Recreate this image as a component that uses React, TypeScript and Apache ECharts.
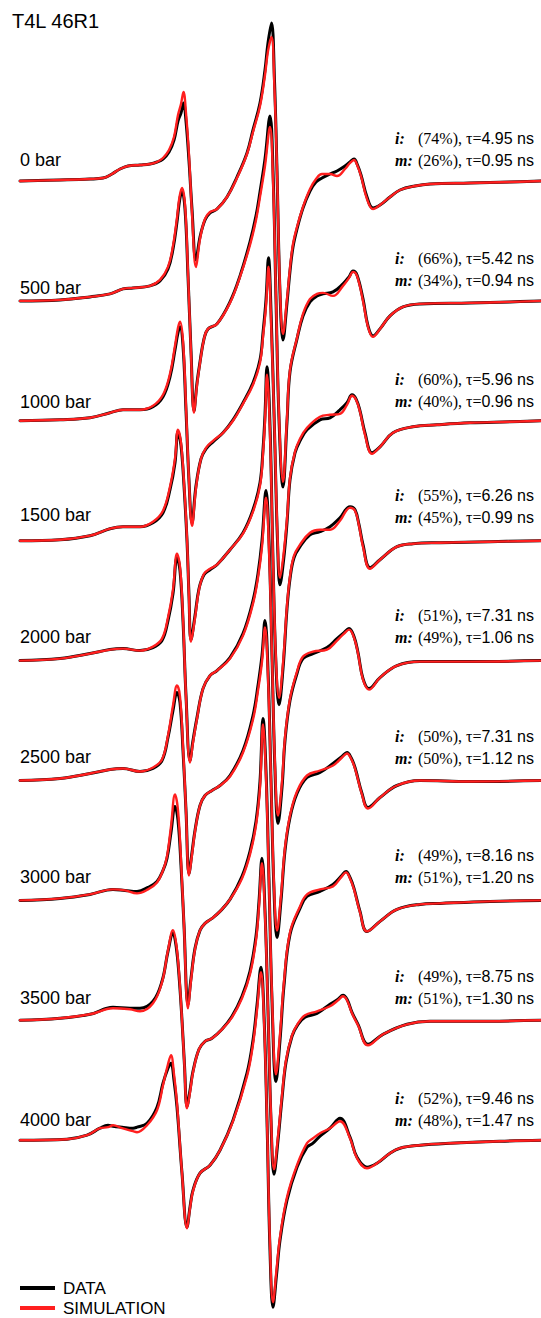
import { useEffect, useRef } from "react";
import * as echarts from "echarts";

// Pressure series of T4L 46R1 EPR spectra: first-derivative amplitude (arb.)
// against magnetic field offset (G). Each pressure has its own field grid,
// shared by the measured trace and its two-component simulation.

const PRESSURES = ["0 bar", "500 bar", "1000 bar", "1500 bar", "2000 bar", "2500 bar", "3000 bar", "3500 bar", "4000 bar"];

const FIELD_0 = [0, 8, 14, 16.6, 18.4, 20, 21.6, 24, 26, 27.4, 28.6, 29.8, 30.8, 31.6, 32.2, 32.7, 33.2, 33.8, 34.4, 35.2, 36, 37, 38, 39.4, 41.4, 43.4, 45.4, 46.6, 48, 49, 49.6, 50.3, 50.9, 51.4, 52, 52.6, 53.4, 54, 54.6, 55.4, 56.6, 58, 59.2, 60.4, 62, 63.4, 65, 66, 66.8, 67.5, 68.2, 69.4, 70.6, 72, 74, 76, 79, 82, 90, 98, 104.2];
const DATA_0 = [0, 1, 2, 3, 7, 12, 15, 16, 17, 19, 22, 29, 41, 60, 68, 78, 60, 20, -28, -79, -56, -39, -32, -28, -16, 4, 28, 51, 78, 111, 138, 158, 100, 10, -112, -159, -122, -90, -66, -48, -27, -10, -1, 3, 7, 10, 15, 19, 22, 16, 6, -16, -27, -24, -16, -9, -5, -3, -2, -1, 0];
const SIM_0 = [0, 1, 2, 3, 7, 12, 15, 16, 17, 19, 23, 31, 44, 66, 77, 89, 68, 26, -32, -86, -58, -38, -31, -28, -16, 3, 27, 49, 75, 106, 130, 144, 92, 12, -108, -153, -118, -87, -63, -46, -26, -8, 2, 7, 7, 5, 12, 18, 21, 15, 5, -18, -28, -24, -16, -9, -5, -3, -2, -1, 0];

const FIELD_500 = [0, 8, 14, 18, 20.6, 22.6, 26, 28, 29.6, 30.6, 31.4, 31.9, 32.4, 33, 33.6, 34.2, 34.8, 35.4, 36, 36.8, 37.6, 39.4, 42, 44, 46, 47.2, 48, 49, 50, 50.6, 51.2, 51.8, 52.6, 53.4, 54, 55.4, 56.6, 58, 59.4, 60.6, 62.6, 64.6, 65.8, 66.6, 67.4, 68.6, 69.6, 70.6, 72, 74, 76.6, 80, 90, 98, 104.2];
const DATA_500 = [0, 1, 4, 7, 12, 13, 15, 20, 32, 52, 79, 100, 110, 92, 25, -50, -110, -82, -61, -38, -28, -23, -1, 25, 59, 85, 109, 142, 185, 130, 2, -118, -186, -121, -71, -38, -15, -1, 5, 7, 9, 17, 24, 30, 26, 2, -25, -35, -28, -15, -6, -3, -2, -1, 0];
const SIM_500 = [0, 1, 4, 7, 12, 13, 15, 21, 34, 55, 83, 104, 113, 96, 28, -52, -112, -84, -62, -38, -28, -23, -2, 24, 56, 81, 104, 135, 174, 122, 4, -115, -181, -117, -69, -37, -13, 2, 7, 8, 5, 15, 23, 29, 25, 0, -26, -36, -28, -15, -6, -3, -2, -1, 0];

const FIELD_1000 = [0, 8, 14, 18, 20.6, 24, 26.6, 28.6, 30, 31, 31.6, 32, 32.6, 33.2, 33.8, 34.4, 35.2, 36.2, 37.2, 38.6, 40.6, 42.6, 44.6, 46.6, 48, 48.6, 49.2, 49.7, 50.2, 50.9, 51.5, 52, 52.7, 53.4, 54, 55, 56, 57.4, 60, 62, 64, 65.4, 66.4, 67.2, 68, 69, 70.4, 72, 74.6, 78.6, 83.4, 90, 98, 104.2];
const DATA_1000 = [0, 1, 3, 8, 11, 11, 14, 24, 44, 71, 88, 94, 75, 10, -60, -102, -65, -38, -28, -21, -12, 1, 18, 38, 61, 88, 121, 163, 110, -10, -120, -164, -140, -102, -59, -32, -20, -9, 1, 3, 11, 18, 26, 22, 10, -12, -32, -26, -12, -6, -4, -2, -1, 0];
const SIM_1000 = [0, 1, 3, 8, 11, 11, 15, 26, 47, 75, 93, 99, 80, 14, -60, -105, -67, -38, -27, -20, -12, 0, 17, 36, 58, 84, 115, 154, 102, -8, -115, -157, -134, -98, -57, -31, -18, -7, 4, 6, 7, 16, 25, 21, 9, -14, -33, -26, -12, -6, -4, -2, -1, 0];

const FIELD_1500 = [0, 8, 14, 18, 20.6, 24, 26.6, 28.6, 30, 31, 31.6, 32.2, 32.8, 33.4, 33.8, 34.2, 35, 35.8, 36.8, 38, 39.4, 42, 44.6, 46.6, 48, 48.6, 49, 49.4, 50, 50.6, 51.2, 51.8, 52.6, 53.4, 54, 54.8, 56, 58, 60, 62, 64, 66, 67, 67.8, 68.6, 70, 72, 75.4, 78.6, 84, 94, 104.2];
const DATA_1500 = [0, 1, 5, 12, 14, 14, 18, 28, 51, 78, 109, 95, 55, 0, -55, -99, -75, -48, -34, -29, -24, -9, 8, 31, 58, 91, 126, 174, 115, -20, -125, -164, -128, -68, -38, -17, -6, 6, 9, 14, 23, 34, 31, 16, -4, -27, -19, -6, -3, -2, -1, 0];
const SIM_1500 = [0, 1, 5, 12, 14, 14, 19, 30, 54, 82, 111, 98, 58, 2, -57, -101, -77, -49, -33, -28, -24, -9, 7, 29, 55, 87, 120, 166, 108, -18, -120, -157, -123, -65, -36, -15, -4, 8, 11, 11, 20, 33, 30, 15, -6, -28, -19, -6, -3, -2, -1, 0];

const FIELD_2000 = [0, 8, 14, 18, 20.6, 24, 26.6, 28.4, 29.6, 30.6, 31.4, 32, 32.6, 33.2, 34, 34.6, 35.4, 36.6, 38, 39.4, 42, 44.6, 46.6, 47.6, 48.4, 49.2, 49.8, 50.4, 51, 51.6, 52.4, 53, 54, 55.4, 56.6, 58.6, 61.4, 63.4, 64.8, 65.8, 66.8, 67.6, 68.6, 69.8, 72, 75.4, 80, 90, 104.2];
const DATA_2000 = [0, 2, 7, 11, 12, 10, 13, 20, 40, 67, 103, 90, 40, -35, -100, -80, -57, -28, -15, -10, 3, 27, 60, 87, 120, 170, 120, 5, -110, -163, -127, -80, -40, -13, 2, 7, 13, 22, 28, 32, 24, 8, -18, -28, -17, -5, -1, -1, 0];
const SIM_2000 = [0, 2, 7, 11, 12, 10, 14, 22, 43, 71, 107, 94, 43, -36, -102, -82, -58, -28, -15, -10, 2, 25, 57, 83, 114, 163, 112, 5, -105, -155, -121, -77, -38, -11, 4, 9, 11, 20, 27, 31, 23, 7, -19, -29, -17, -5, -1, -1, 0];

const FIELD_2500 = [0, 8, 14, 18, 20.6, 24, 26.6, 28.4, 29.6, 30.6, 31.4, 32, 32.6, 33.2, 33.8, 34.4, 35, 36, 37, 38.4, 40, 42, 44.6, 46.6, 47.6, 48.4, 49, 49.6, 50.2, 50.8, 51.4, 52.2, 53, 54, 55.4, 57.4, 60, 62.6, 64.4, 65.4, 66.2, 67, 68.4, 69.6, 72, 75.4, 80, 90, 104.2];
const DATA_2500 = [0, 2, 7, 11, 12, 9, 12, 20, 43, 70, 88, 78, 30, -30, -93, -72, -50, -25, -15, -10, -5, 5, 30, 65, 95, 125, 160, 110, 0, -110, -157, -120, -70, -37, -13, 3, 8, 17, 24, 28, 23, 13, -13, -27, -17, -5, 0, -1, 0];
const SIM_2500 = [0, 2, 7, 11, 12, 9, 13, 21, 45, 75, 95, 84, 34, -30, -95, -74, -51, -25, -15, -10, -5, 4, 28, 61, 90, 119, 153, 104, 0, -105, -150, -115, -67, -35, -11, 5, 10, 15, 23, 27, 22, 12, -14, -28, -17, -5, 0, -1, 0];

const FIELD_3000 = [0, 8, 14, 18.6, 21, 23.4, 25.6, 27.4, 28.6, 29.4, 30.2, 31, 31.6, 32.2, 32.8, 33.6, 34.2, 35, 36, 37, 38.4, 40, 42, 44.4, 46, 47.2, 48, 48.6, 49.2, 49.8, 50.4, 51.2, 52, 52.8, 54, 56, 57.4, 60, 62.6, 64.2, 65.2, 66, 66.8, 68, 69.4, 72, 75.4, 80, 84, 94, 104.2];
const DATA_3000 = [0, 2, 6, 11, 10, 9, 13, 19, 30, 42, 68, 94, 80, 35, -25, -104, -78, -48, -30, -23, -18, -11, 1, 24, 49, 79, 119, 182, 130, 20, -100, -181, -140, -85, -34, -8, 4, 9, 16, 24, 29, 23, 12, -11, -31, -21, -9, -4, -3, -1, 0];
const SIM_3000 = [0, 2, 6, 11, 10, 7, 11, 18, 30, 44, 74, 106, 90, 40, -25, -108, -80, -49, -30, -23, -18, -11, 1, 22, 46, 75, 113, 176, 124, 18, -96, -174, -134, -81, -32, -6, 6, 11, 14, 23, 28, 22, 11, -12, -31, -21, -9, -4, -3, -1, 0];

const FIELD_3500 = [0, 8, 14, 18.6, 22, 24, 26.6, 28.4, 29.6, 30.6, 31.2, 31.8, 32.4, 32.9, 33.4, 34, 34.6, 35.8, 37, 38.4, 40.4, 42.4, 44.4, 46, 47.2, 47.8, 48.4, 49, 49.6, 50.2, 50.8, 51.6, 52.4, 53.2, 54.4, 55.6, 57, 59.4, 62, 63.6, 64.6, 65.4, 66.4, 67.6, 69.6, 72.6, 77.4, 82, 90, 104.2];
const DATA_3500 = [0, 2, 6, 13, 12, 12, 19, 39, 69, 87, 75, 45, 0, -45, -86, -70, -51, -29, -21, -18, -9, 4, 24, 49, 84, 119, 162, 110, 10, -100, -154, -120, -78, -42, -16, -4, 3, 7, 16, 21, 25, 21, 8, -4, -24, -14, -4, -1, -1, 0];
const SIM_3500 = [0, 2, 6, 12, 11, 9, 17, 38, 70, 90, 78, 48, 0, -46, -88, -72, -52, -29, -21, -18, -9, 3, 22, 46, 80, 114, 157, 106, 10, -96, -149, -116, -75, -40, -15, -3, 5, 9, 14, 20, 24, 20, 7, -5, -25, -14, -4, -1, -1, 0];

const FIELD_4000 = [0, 9.4, 13.4, 16, 17.6, 18.6, 20.4, 22.6, 23.4, 25.4, 27.4, 28.6, 29.6, 30.2, 30.8, 31.4, 32.4, 33.4, 34, 34.6, 36, 38, 40, 42.6, 45.4, 46.6, 47.4, 48.2, 48.8, 49.4, 50, 50.6, 51.3, 52, 53.4, 55.4, 57.4, 58.6, 60, 62, 64, 66, 67.4, 69.4, 71.4, 74, 76, 80, 86, 96, 104.2];
const DATA_4000 = [0, 1, 5, 12, 15, 14, 13, 12, 13, 17, 33, 57, 72, 77, 60, 33, -33, -87, -67, -50, -33, -25, -10, 20, 67, 100, 135, 173, 125, 20, -110, -167, -135, -100, -60, -27, -7, -3, 4, 12, 22, 3, -17, -27, -23, -13, -8, -5, -3, -1, 0];
const SIM_4000 = [0, 1, 5, 12, 13, 15, 12, 9, 8, 15, 30, 55, 76, 85, 66, 37, -33, -88, -68, -51, -33, -25, -10, 19, 64, 96, 130, 168, 121, 20, -105, -162, -130, -97, -57, -25, -3, 2, 7, 12, 19, 2, -18, -28, -23, -13, -8, -5, -3, -1, 0];

// Two-component fit results: immobile (i) and mobile (m) populations
const FRACTION_I = ["74%", "66%", "60%", "55%", "51%", "50%", "49%", "49%", "52%"];
const TAU_I = ["4.95", "5.42", "5.96", "6.26", "7.31", "7.31", "8.16", "8.75", "9.46"];
const FRACTION_M = ["26%", "34%", "40%", "45%", "49%", "50%", "51%", "51%", "48%"];
const TAU_M = ["0.95", "0.94", "0.96", "0.99", "1.06", "1.12", "1.20", "1.30", "1.47"];

const FIELDS = [FIELD_0, FIELD_500, FIELD_1000, FIELD_1500, FIELD_2000, FIELD_2500, FIELD_3000, FIELD_3500, FIELD_4000];
const DATA = [DATA_0, DATA_500, DATA_1000, DATA_1500, DATA_2000, DATA_2500, DATA_3000, DATA_3500, DATA_4000];
const SIM = [SIM_0, SIM_500, SIM_1000, SIM_1500, SIM_2000, SIM_2500, SIM_3000, SIM_3500, SIM_4000];

const WIDTH = 541;
const HEIGHT = 1318;
const STACK_STEP = 119.9; // vertical spacing between pressures, in amplitude units
const SANS = "'Liberation Sans', Arial, Helvetica, sans-serif";
const SERIF = "'Liberation Serif', 'Times New Roman', Times, serif";
const BLACK = "#000000";
const RED = "#ff1f1f";

// Text rows (px) for the pressure labels and fit results
const LABEL_Y = [160, 288, 402, 515, 637, 757, 877, 998, 1120];
const ROW_M_Y = [160, 280, 401, 517, 637, 758, 877, 998, 1120];

function buildOption(): echarts.EChartsOption {
  const series: any[] = [];
  const makeLine = (name: string, color: string, width: number, values: number[][], i: number) => ({
    type: "line",
    name,
    data: FIELDS[i].map((f, k) => [f, values[i][k] - i * STACK_STEP]),
    showSymbol: false,
    symbol: "none",
    smooth: 0.4,
    lineStyle: { color, width, cap: "round", join: "round" },
    itemStyle: { color },
    silent: true,
    z: color === RED ? 3 : 2,
  });
  PRESSURES.forEach((_, i) => series.push(makeLine("DATA", BLACK, 3, DATA, i)));
  PRESSURES.forEach((_, i) => series.push(makeLine("SIMULATION", RED, 2.4, SIM, i)));

  const graphics: any[] = [
    {
      type: "text",
      left: 12,
      top: 11,
      style: { text: "T4L 46R1", font: `20px ${SANS}`, fill: "#000" },
    },
  ];
  PRESSURES.forEach((p, i) => {
    graphics.push({
      type: "text",
      x: 20,
      y: LABEL_Y[i],
      style: { text: p, font: `18px ${SANS}`, fill: "#000", verticalAlign: "middle" },
    });
    const rows = [
      { tag: "i:", y: ROW_M_Y[i] - 21.5, frac: FRACTION_I[i], tau: TAU_I[i] },
      { tag: "m:", y: ROW_M_Y[i], frac: FRACTION_M[i], tau: TAU_M[i] },
    ];
    rows.forEach((r) => {
      graphics.push({
        type: "text",
        x: 395,
        y: r.y,
        style: {
          text: r.tag,
          font: `italic bold 16px ${SERIF}`,
          fill: "#000",
          verticalAlign: "middle",
        },
      });
      graphics.push({
        type: "text",
        x: 418,
        y: r.y,
        style: {
          text: `{s|(${r.frac}), τ=}{h|${r.tau} ns}`,
          verticalAlign: "middle",
          rich: {
            s: { font: `16px ${SERIF}`, fill: "#000" },
            h: { font: `16px ${SANS}`, fill: "#000" },
          },
        },
      });
    });
  });

  const legendItem = (name: string, top: number) => ({
    left: 20,
    top,
    orient: "vertical",
    padding: 0,
    itemWidth: 35,
    itemHeight: 4,
    selectedMode: false,
    data: [{ name, icon: "rect" }],
    textStyle: { fontSize: 17, fontFamily: SANS, color: "#000", lineHeight: 17, padding: [0, 0, 0, 3] },
  });

  return {
    animation: false,
    backgroundColor: "#ffffff",
    grid: { left: 20, right: 0, top: 0, bottom: 0, containLabel: false },
    xAxis: { type: "value", min: 0, max: 104.2, show: false },
    yAxis: { type: "value", min: 181 - HEIGHT, max: 181, show: false },
    legend: [legendItem("DATA", 1279.5), legendItem("SIMULATION", 1299.5)],
    series,
    graphic: graphics,
  };
}

export default function App() {
  const ref = useRef<HTMLDivElement>(null);
  useEffect(() => {
    if (!ref.current) return;
    const chart = echarts.init(ref.current, undefined, { renderer: "svg", width: WIDTH, height: HEIGHT });
    chart.setOption(buildOption());
    return () => chart.dispose();
  }, []);
  return (
    <div
      ref={ref}
      style={{ position: "absolute", left: 0, top: 0, width: WIDTH, height: HEIGHT, background: "#fff" }}
    />
  );
}
